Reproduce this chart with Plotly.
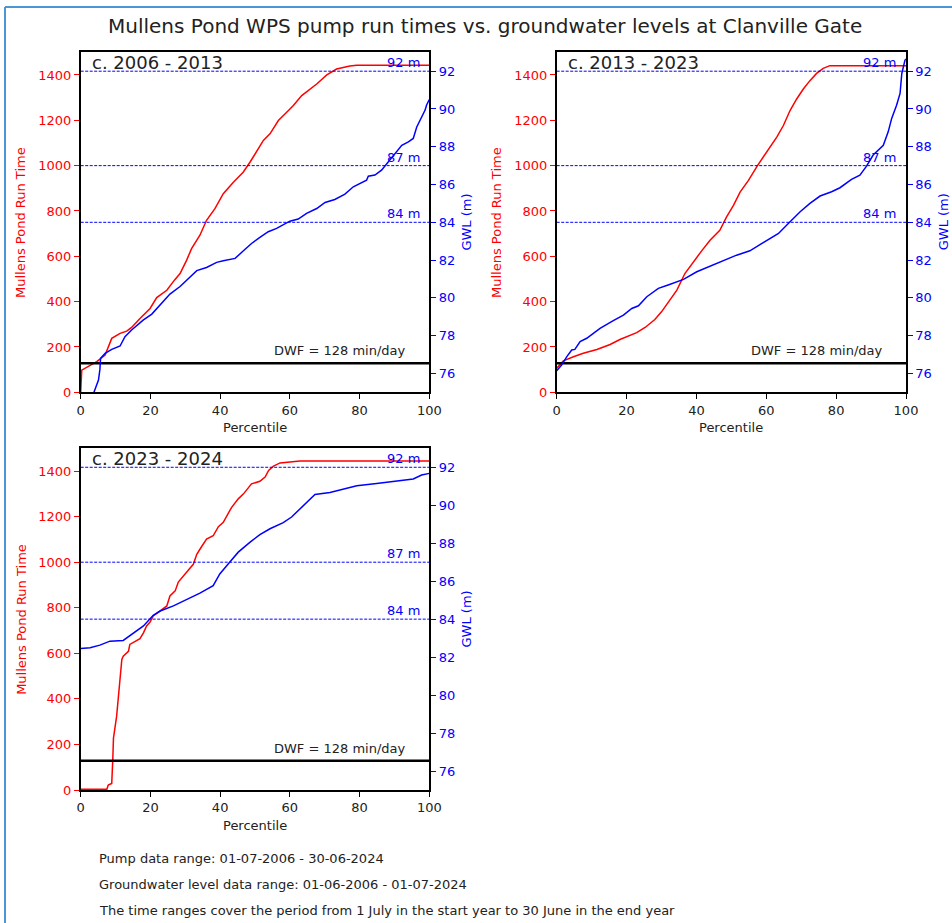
import plotly.graph_objects as go

W, H = 952, 923

# ---------------- data ----------------
titles = ["c. 2006 - 2013", "c. 2013 - 2023", "c. 2023 - 2024"]

pump_pct_1 = [0, 0.3, 4.6, 7, 8.9, 11.3, 13.2, 14.6, 17, 19.9, 21.8, 24.7, 27, 28.5, 30.4, 31.8, 34.2,
              36.1, 38.5, 40.9, 43.8, 46.6, 48.6, 50.5, 52.4, 54.3, 56.7, 59.6, 61, 63.4, 67.7, 70.6,
              73.4, 77.2, 79.2, 100]
pump_val_1 = [0, 98, 135, 164, 238, 260, 270, 286, 326, 370, 418, 450, 497, 524, 583, 634, 693,
              759, 810, 876, 927, 971, 1016, 1062, 1111, 1140, 1199, 1243, 1265, 1309, 1360, 1400,
              1426, 1440, 1443, 1443]
gwl_pct_1 = [3.6, 5.1, 5.5, 5.7, 7, 8.9, 11.3, 12.7, 14.6, 18, 20.4, 22.8, 25.6, 28.5, 30.9, 33.3,
             36.1, 39, 40.9, 44.3, 46.6, 49, 51.4, 53.8, 56.2, 60, 62.4, 64.8, 67.7, 70.1, 72.9, 75.8,
             78.2, 80.6, 82, 82.5, 84.4, 86.3, 88.2, 90.2, 92.1, 94, 95.4, 96.4, 97.8, 98.8, 99.2, 100]
gwl_val_1 = [74.9, 75.65, 76.2, 76.8, 77.06, 77.27, 77.45, 77.94, 78.3, 78.83, 79.14, 79.62, 80.2,
             80.6, 81.03, 81.44, 81.61, 81.88, 81.96, 82.09, 82.48, 82.88, 83.2, 83.5, 83.68, 84.06,
             84.17, 84.47, 84.73, 85.05, 85.21, 85.49, 85.88, 86.09, 86.23, 86.44, 86.5, 86.76, 87.2,
             87.64, 88.08, 88.26, 88.44, 89.05, 89.58, 89.94, 90.2, 90.5]

pump_pct_2 = [0, 1.9, 4.8, 7.6, 11.5, 15.3, 18.1, 21, 22.9, 25.3, 28.1, 30, 32.4, 34.4, 36.7, 39.1,
              41.5, 43.9, 46.7, 48.6, 50.6, 52.5, 54.9, 57.3, 59.2, 61.1, 63, 64.9, 66.8, 68.7, 70.6,
              72.5, 74.4, 76.3, 78.2, 100]
pump_val_2 = [106, 139, 157, 172, 189, 211, 233, 252, 263, 286, 321, 355, 406, 451, 524, 575, 624,
              671, 715, 773, 825, 883, 935, 996, 1038, 1082, 1126, 1177, 1243, 1294, 1338, 1375,
              1407, 1429, 1441, 1441]
gwl_pct_2 = [0, 1.4, 2.9, 4.3, 5.2, 6.7, 8.6, 12.4, 16.2, 19.1, 21.5, 23.4, 25.8, 29.1, 31.9, 34.4,
             36.3, 40.1, 43.9, 47.7, 51.5, 55.3, 59.2, 63.5, 66.3, 69.7, 72.5, 75.4, 78.7, 81.1, 84.4,
             86.8, 88.7, 90.6, 93.5, 94.9, 95.9, 97.3, 98.3, 98.8, 99.7, 100]
gwl_val_2 = [76.14, 76.44, 76.89, 77.24, 77.27, 77.68, 77.86, 78.38, 78.79, 79.09, 79.44, 79.58,
             80.06, 80.5, 80.68, 80.85, 80.98, 81.38, 81.68, 82.0, 82.26, 82.49, 82.92, 83.41, 83.94,
             84.56, 85.0, 85.39, 85.62, 85.83, 86.27, 86.5, 86.97, 87.56, 88.08, 88.79, 89.5, 90.2,
             90.82, 91.88, 92.58, 92.65]

pump_pct_3 = [0, 7.5, 7.9, 8.9, 9.2, 9.4, 10.3, 10.8, 11.3, 11.8, 12.2, 13.7, 14.1, 15.6, 17, 18,
              18.9, 19.9, 20.8, 22.8, 24.7, 25.6, 27.1, 28, 29.5, 30.9, 32.3, 33.3, 34.7, 36.1, 38,
              39.5, 40.9, 41.9, 43.3, 45.2, 46.7, 49, 51.4, 52.9, 53.9, 55.3, 57.2, 62.9, 100]
pump_val_3 = [3, 3, 22, 29, 132, 228, 323, 411, 485, 573, 587, 609, 639, 653, 664, 690, 720, 737,
              764, 786, 808, 852, 874, 913, 943, 966, 991, 1035, 1069, 1101, 1116, 1156, 1175, 1204,
              1241, 1278, 1300, 1344, 1355, 1374, 1403, 1422, 1436, 1444, 1444]
gwl_pct_3 = [0, 2.7, 5.5, 8.4, 12.2, 15.1, 18, 20.8, 22.8, 26.6, 30.4, 34.2, 38, 39.9, 42.3, 45.2,
             48.6, 51.4, 54.3, 58.1, 60.5, 63.9, 67.2, 71.5, 75.8, 79.2, 84.9, 91.6, 95.4, 97.8, 100]
gwl_val_3 = [82.45, 82.49, 82.63, 82.84, 82.88, 83.25, 83.64, 84.2, 84.43, 84.7, 85.02, 85.37,
             85.76, 86.38, 86.91, 87.53, 88.06, 88.45, 88.76, 89.08, 89.38, 90.0, 90.57, 90.67,
             90.89, 91.03, 91.15, 91.28, 91.38, 91.59, 91.68]

gwl_levels = [92, 87, 84]
gwl_level_labels = ["92 m", "87 m", "84 m"]
dwf_value = 128
dwf_label = "DWF = 128 min/day"
x_ticks = [0, 20, 40, 60, 80, 100]
left_ticks = [0, 200, 400, 600, 800, 1000, 1200, 1400]
right_ticks = [76, 78, 80, 82, 84, 86, 88, 90, 92]

main_title = "Mullens Pond WPS pump run times vs. groundwater levels at Clanville Gate"
footer_lines = ["Pump data range: 01-07-2006 - 30-06-2024",
                "Groundwater level data range: 01-06-2006 - 01-07-2024",
                "The time ranges cover the period from 1 July in the start year to 30 June in the end year"]

panels = [
    (pump_pct_1, pump_val_1, gwl_pct_1, gwl_val_1),
    (pump_pct_2, pump_val_2, gwl_pct_2, gwl_val_2),
    (pump_pct_3, pump_val_3, gwl_pct_3, gwl_val_3),
]

# ---------------- layout geometry (pixels) ----------------
FONT = "DejaVu Sans"
TXT = "#222222"
RED = "#ff0000"
BLUE = "#0000ff"

def px(x):
    return x / W

def py(y):
    return 1 - y / H

cols = [(80.7, 429.3), (556.7, 906.0)]
rows = [(52.3, 392.3), (448.3, 790.0)]
cells = [(0, 0), (0, 1), (1, 0)]

fig = go.Figure()
layout = dict(
    width=W, height=H, margin=dict(l=0, r=0, t=0, b=0, pad=0, autoexpand=False),
    paper_bgcolor="white", plot_bgcolor="white", showlegend=False,
    font=dict(family=FONT, size=13, color=TXT),
)
annotations = []
shapes = []

for i, (pp, pv, gp, gv) in enumerate(panels):
    r, c = cells[i]
    x0, x1 = cols[c]
    y0, y1 = rows[r]
    xn = i + 1
    yl = 2 * i + 1
    yr = 2 * i + 2
    xa = "x" if xn == 1 else f"x{xn}"
    yla = "y" if yl == 1 else f"y{yl}"
    yra = f"y{yr}"

    layout["xaxis" if xn == 1 else f"xaxis{xn}"] = dict(
        domain=[px(x0), px(x1)], anchor=yla, range=[0, 100], automargin=False,
        tickvals=x_ticks, ticks="outside", ticklen=5, tickcolor="black", tickwidth=1,
        showline=True, linecolor="black", linewidth=1.5, mirror=True,
        showgrid=False, zeroline=False, tickfont=dict(size=13, color=TXT),
    )
    layout["yaxis" if yl == 1 else f"yaxis{yl}"] = dict(
        domain=[py(y1), py(y0)], anchor=xa, range=[0, 1500], automargin=False,
        tickvals=left_ticks, ticks="outside", ticklen=5, tickcolor=RED, tickwidth=1,
        showline=True, linecolor="black", linewidth=1.5, mirror=True,
        showgrid=False, zeroline=False, tickfont=dict(size=13, color=RED),
    )
    layout[f"yaxis{yr}"] = dict(
        overlaying=yla, side="right", anchor=xa, range=[75, 93], automargin=False,
        tickvals=right_ticks, ticks="outside", ticklen=5, tickcolor=BLUE, tickwidth=1,
        showline=True, linecolor="black", linewidth=1.5,
        showgrid=False, zeroline=False, tickfont=dict(size=13, color=BLUE),
    )

    # pump run time curve
    fig.add_trace(go.Scatter(x=pp, y=pv, mode="lines", xaxis=xa, yaxis=yla,
                             line=dict(color=RED, width=1.5), hoverinfo="skip"))
    # DWF line
    fig.add_trace(go.Scatter(x=[0, 100], y=[dwf_value, dwf_value], mode="lines", xaxis=xa, yaxis=yla,
                             line=dict(color="black", width=2.5), hoverinfo="skip"))
    # GWL reference levels
    for lev in gwl_levels:
        fig.add_trace(go.Scatter(x=[0, 100], y=[lev, lev], mode="lines", xaxis=xa, yaxis=yra,
                                 line=dict(color=BLUE, width=1, dash="3px,1.5px"), hoverinfo="skip"))
    # GWL curve
    fig.add_trace(go.Scatter(x=gp, y=gv, mode="lines", xaxis=xa, yaxis=yra,
                             line=dict(color=BLUE, width=1.5), hoverinfo="skip", cliponaxis=True))

    for lev, lab in zip(gwl_levels, gwl_level_labels):
        annotations.append(dict(text=lab, x=97.8, y=lev, xref=xa, yref=yra, xanchor="right",
                                yanchor="bottom", yshift=-1, showarrow=False,
                                font=dict(size=13, color=BLUE)))
    annotations.append(dict(text=dwf_label, x=94, y=dwf_value, xref=xa, yref=yla, xanchor="right",
                            yanchor="bottom", yshift=3, showarrow=False,
                            font=dict(size=13, color=TXT)))
    # panel title
    annotations.append(dict(text=titles[i], x=px(x0 + 9), y=py(y0 + 10), xref="paper", yref="paper",
                            xanchor="left", yanchor="middle", showarrow=False,
                            font=dict(size=18, color=TXT)))
    # axis titles
    annotations.append(dict(text="Percentile", x=px((x0 + x1) / 2), y=py(y1 + 35), xref="paper",
                            yref="paper", xanchor="center", yanchor="middle", showarrow=False,
                            font=dict(size=13, color=TXT)))
    annotations.append(dict(text="Mullens Pond Run Time", x=px(x0 - 60), y=py((y0 + y1) / 2),
                            xref="paper", yref="paper", xanchor="center", yanchor="middle",
                            textangle=-90, showarrow=False, font=dict(size=13, color=RED)))
    annotations.append(dict(text="GWL (m)", x=px(x1 + 37), y=py((y0 + y1) / 2),
                            xref="paper", yref="paper", xanchor="center", yanchor="middle",
                            textangle=-90, showarrow=False, font=dict(size=13, color=BLUE)))

annotations.append(dict(text=main_title, x=px(485), y=py(26), xref="paper", yref="paper",
                        xanchor="center", yanchor="middle", showarrow=False,
                        font=dict(size=20, color=TXT)))
for k, line in enumerate(footer_lines):
    annotations.append(dict(text=line, x=px(96.5), y=py(858 + 26 * k), xref="paper", yref="paper",
                            xanchor="left", yanchor="middle", showarrow=False,
                            font=dict(size=13, color=TXT)))

# outer frame (blue border)
shapes.append(dict(type="line", xref="paper", yref="paper", x0=px(5), y0=py(7), x1=1.0, y1=py(7),
                   line=dict(color="#4b96d7", width=2)))
shapes.append(dict(type="line", xref="paper", yref="paper", x0=px(5), y0=py(7), x1=px(5), y1=0.0,
                   line=dict(color="#4b96d7", width=2)))

layout["annotations"] = annotations
layout["shapes"] = shapes
fig.update_layout(**layout)
fig.write_html("out.html")
